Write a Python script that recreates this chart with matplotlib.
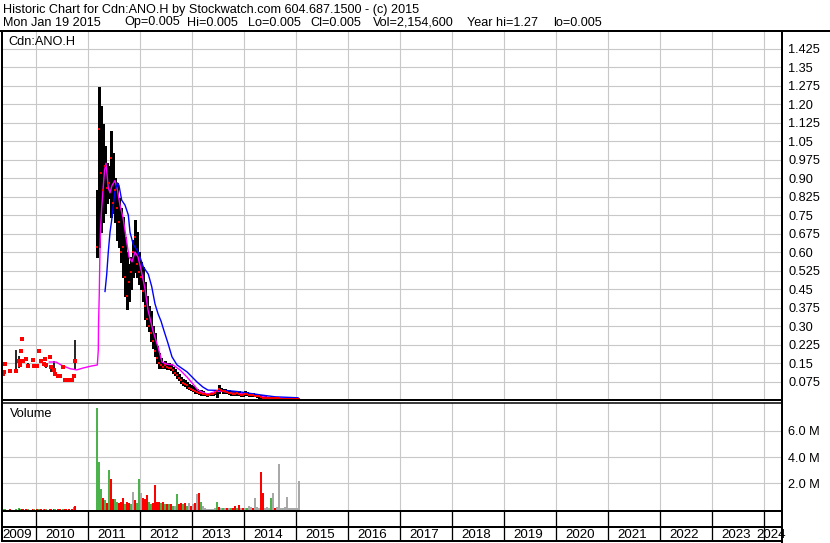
import numpy as np
import pandas as pd
import matplotlib
matplotlib.use('Agg')
import matplotlib.pyplot as plt
from matplotlib.lines import Line2D

plt.rcParams['font.family'] = ['Liberation Sans', 'DejaVu Sans']

title_1 = 'Historic Chart for Cdn:ANO.H by Stockwatch.com 604.687.1500 - (c) 2015'
title_2 = ['Mon Jan 19 2015', 'Op=0.005', 'Hi=0.005', 'Lo=0.005', 'Cl=0.005',
           'Vol=2,154,600', 'Year hi=1.27', 'lo=0.005']
symbol = 'Cdn:ANO.H'

# sparse trades 2009-2010 (decimal years)
early_t = [2009.366, 2009.385, 2009.404, 2009.50, 2009.616, 2009.673, 2009.692, 2009.712,
           2009.731, 2009.75, 2009.808, 2009.846, 2009.943, 2009.962, 2010.02, 2010.058,
           2010.096, 2010.154, 2010.173, 2010.192, 2010.27, 2010.289, 2010.346, 2010.365,
           2010.423, 2010.462, 2010.52, 2010.558, 2010.577, 2010.635, 2010.692, 2010.731,
           2010.75]
early_high = [.104, .113, .147, .119, .203, .18, .14, .20, .249, .159, .166, .15, .162, .136,
              .138, .199, .16, .147, .165, .15, .176, .14, .16, .104, .097, .097, .135, .081,
              .081, .081, .081, .097, .243]
early_low = [.104, .113, .147, .119, .11, .13, .14, .20, .249, .159, .166, .135, .162, .136,
             .138, .199, .15, .147, .165, .13, .176, .115, .10, .104, .097, .097, .135, .081,
             .081, .081, .081, .097, .122]
early_close = [.104, .113, .147, .119, .118, .16, .14, .20, .249, .159, .166, .139, .162, .136,
               .138, .199, .158, .147, .165, .14, .176, .133, .122, .104, .097, .097, .135, .081,
               .081, .081, .081, .097, .158]
early_vol = [0.05, 0.04, 0.05, 0.05, 0.08, 0.1, 0.05, 0.05, 0.06, 0.05, 0.05, 0.05, 0.05, 0.06,
             0.05, 0.05, 0.05, 0.06, 0.05, 0.05, 0.05, 0.06, 0.05, 0.05, 0.06, 0.05, 0.05, 0.05,
             0.05, 0.05, 0.06, 0.23, 0.3]
early_move = list('rggrggrgrrrgrgrgrgrgrrrgrrgrrrrgr')

# two-week bars Mar 2011 - Jan 2015
act_start, act_count = '2011-03-07', 102
act_high = [0.85, 1.27, 1.19, 1.12, 1.03, 0.96, 0.95, 1.09, 1.00, 0.90,
            0.88, 0.82, 0.78, 0.74, 0.66, 0.60, 0.55, 0.58, 0.65, 0.73,
            0.68, 0.60, 0.56, 0.54, 0.48, 0.42, 0.38, 0.36, 0.30, 0.27,
            0.22, 0.19, 0.17, 0.155, 0.16, 0.15, 0.15, 0.145, 0.135, 0.125,
            0.115, 0.105, 0.095, 0.085, 0.08, 0.075, 0.065, 0.06, 0.055, 0.05,
            0.045, 0.042, 0.04, 0.035, 0.03, 0.03, 0.028, 0.03, 0.03, 0.035,
            0.04, 0.061, 0.05, 0.045, 0.045, 0.04, 0.04, 0.035, 0.035, 0.032,
            0.035, 0.035, 0.03, 0.03, 0.035, 0.032, 0.03, 0.03, 0.028, 0.025,
            0.025, 0.022, 0.02, 0.018, 0.015, 0.012, 0.012, 0.012, 0.01, 0.012,
            0.01, 0.01, 0.01, 0.01, 0.008, 0.008, 0.008, 0.008, 0.007, 0.007,
            0.006, 0.005]
act_low = [0.58, 0.62, 0.68, 0.72, 0.76, 0.80, 0.82, 0.74, 0.76, 0.72,
           0.65, 0.62, 0.56, 0.50, 0.42, 0.37, 0.40, 0.45, 0.50, 0.52,
           0.50, 0.47, 0.45, 0.40, 0.33, 0.30, 0.28, 0.24, 0.21, 0.18,
           0.15, 0.13, 0.13, 0.13, 0.13, 0.125, 0.125, 0.12, 0.11, 0.10,
           0.09, 0.08, 0.07, 0.06, 0.055, 0.05, 0.045, 0.04, 0.035, 0.03,
           0.028, 0.025, 0.022, 0.02, 0.02, 0.018, 0.02, 0.02, 0.022, 0.025,
           0.012, 0.03, 0.035, 0.03, 0.03, 0.028, 0.025, 0.022, 0.02, 0.02,
           0.02, 0.02, 0.018, 0.018, 0.02, 0.02, 0.018, 0.018, 0.015, 0.015,
           0.012, 0.01, 0.01, 0.008, 0.008, 0.006, 0.006, 0.006, 0.005, 0.006,
           0.005, 0.005, 0.005, 0.005, 0.005, 0.005, 0.005, 0.005, 0.005, 0.005,
           0.005, 0.005]
act_close = [0.62, 1.10, 0.92, 0.85, 0.95, 0.86, 0.88, 0.98, 0.80, 0.85,
             0.78, 0.72, 0.60, 0.62, 0.50, 0.42, 0.48, 0.52, 0.60, 0.66,
             0.55, 0.52, 0.50, 0.44, 0.38, 0.33, 0.30, 0.27, 0.24, 0.20,
             0.17, 0.15, 0.14, 0.135, 0.14, 0.135, 0.13, 0.13, 0.12, 0.11,
             0.10, 0.09, 0.08, 0.07, 0.065, 0.06, 0.05, 0.045, 0.04, 0.038,
             0.033, 0.03, 0.028, 0.025, 0.025, 0.022, 0.022, 0.025, 0.025, 0.03,
             0.035, 0.045, 0.04, 0.038, 0.035, 0.032, 0.03, 0.028, 0.025, 0.025,
             0.028, 0.025, 0.022, 0.022, 0.025, 0.025, 0.02, 0.022, 0.02, 0.018,
             0.015, 0.015, 0.012, 0.01, 0.01, 0.008, 0.008, 0.008, 0.007, 0.008,
             0.007, 0.007, 0.006, 0.006, 0.006, 0.006, 0.005, 0.005, 0.005, 0.005,
             0.005, 0.005]
act_vol = [7.7, 3.65, 1.6, 0.9, 0.7, 0.5, 3.0, 2.3, 0.8, 0.8,
           0.6, 0.5, 0.6, 0.9, 0.4, 0.6, 0.5, 0.4, 1.37, 0.7,
           0.5, 2.3, 1.3, 0.9, 0.8, 1.1, 0.6, 0.4, 0.5, 1.9,
           0.6, 0.6, 0.5, 0.6, 0.4, 0.4, 0.4, 0.4, 0.3, 0.3,
           1.2, 0.4, 0.5, 0.4, 0.5, 0.3, 0.5, 0.3, 0.4, 0.5,
           1.2, 1.3, 0.6, 0.3, 0.15, 0.05, 0.05, 0.05, 0.05, 0.1,
           0.6, 0.2, 0.1, 0.15, 0.15, 0.1, 0.1, 0.15, 0.1, 0.3,
           0.15, 0.35, 0.1, 0.1, 0.1, 0.1, 0.3, 0.2, 0.1, 0.9,
           0.2, 0.1, 2.9, 1.3, 0.1, 0.2, 0.1, 0.9, 1.3, 0.15,
           0.2, 3.5, 0.15, 0.15, 0.2, 1.0, 0.1, 0.15, 0.1, 0.1,
           0.1, 2.15]
act_move = list('gggrgrgrrg' 'grrrgrrgnr' 'ggnrrrggrr' 'rrgrgrgrgn' 'grrgrgnrnr'
                'nrgnnnnnnn' 'grngnrngrr' 'grnrngnnrn' 'nnrrnnngnr' 'nnnnnnnnnn' 'nn')

# moving averages
ma_short_t = [2010.256, 2010.385, 2010.50, 2010.654, 2010.783, 2010.91, 2011.071, 2011.179,
              2011.198, 2011.202, 2011.217, 2011.231, 2011.24, 2011.263, 2011.288, 2011.317,
              2011.346, 2011.39, 2011.423, 2011.462, 2011.519, 2011.567, 2011.615, 2011.673,
              2011.731, 2011.788, 2011.846, 2011.904, 2011.962, 2012.019, 2012.096, 2012.154,
              2012.25, 2012.346, 2012.423, 2012.519, 2012.635, 2012.769, 2012.904, 2013.019,
              2013.115, 2013.212, 2013.308, 2013.442, 2013.571, 2013.764, 2014.019, 2014.269,
              2014.533, 2015.038]
ma_short = [.154, .154, .14, .127, .122, .13, .138, .142, .203, .304, .434, .62, .69, .78, .85,
            .93, .96, .86, .84, .87, .89, .85, .79, .74, .66, .58, .56, .60, .58, .53, .45, .365,
            .28, .215, .154, .145, .142, .122, .093, .065, .04, .03, .024, .034, .036, .028,
            .024, .016, .009, .007]
ma_long_t = [2011.327, 2011.36, 2011.39, 2011.423, 2011.456, 2011.487, 2011.519, 2011.567,
             2011.596, 2011.648, 2011.712, 2011.775, 2011.808, 2011.871, 2011.967, 2012.063,
             2012.16, 2012.225, 2012.288, 2012.346, 2012.404, 2012.462, 2012.538, 2012.615,
             2012.712, 2012.904, 2013.096, 2013.212, 2013.308, 2013.692, 2013.885, 2014.34,
             2014.596, 2015.038]
ma_long = [.44, .51, .60, .68, .73, .79, .85, .88, .87, .81, .79, .75, .68, .63, .60, .54, .51,
           .46, .39, .35, .32, .28, .23, .175, .142, .114, .073, .052, .04, .038, .034, .02,
           .013, .009]

price_ticks = [0.075 * k for k in range(1, 20)]
price_tick_labels = ['0.075', '0.15', '0.225', '0.30', '0.375', '0.45', '0.525', '0.60',
                     '0.675', '0.75', '0.825', '0.90', '0.975', '1.05', '1.125', '1.20',
                     '1.275', '1.35', '1.425']
vol_ticks = [2e6, 4e6, 6e6]
vol_tick_labels = ['2.0 M', '4.0 M', '6.0 M']
year_labels = [str(y) for y in range(2009, 2025)]

W, H = 830, 543
X0, X1 = 2009.346, 2024.346
GRID = '#c8c8c8'
MOVE_COLORS = {'g': '#4cb34c', 'r': '#ff0000', 'n': '#a8a8a8'}
TITLE_2_X = [3, 124, 187, 248, 310, 373, 467, 553]


def fx(px):
    return px / W


def fy(py):
    return 1 - py / H


def axes_px(fig, left, top, right, bottom):
    ax = fig.add_axes([fx(left), fy(bottom), (right - left) / W, (bottom - top) / H])
    for s in ax.spines.values():
        s.set_visible(False)
    ax.set_xlim(X0, X1)
    return ax


def line_px(fig, x0, y0, x1, y1, lw=2.0):
    fig.add_artist(Line2D([fx(x0), fx(x1)], [fy(y0), fy(y1)], transform=fig.transFigure,
                          color='black', lw=lw * 0.72, solid_capstyle='butt'))


def decimal_year(d):
    return d.year + (d.dayofyear - 1) / (366 if d.is_leap_year else 365)


act_t = [decimal_year(d) for d in pd.date_range(act_start, periods=act_count, freq='14D')]
years = list(range(2010, 2025))

fig = plt.figure(figsize=(W / 100, H / 100), dpi=100)
fig.patch.set_facecolor('white')

# price panel
ax = axes_px(fig, 2, 32, 782, 400)
ax.set_ylim(0, 1.492)
ax.set_xticks(years)
ax.set_yticks(price_ticks)
ax.set_yticklabels(price_tick_labels)
ax.tick_params(axis='x', length=0, labelbottom=False)
ax.tick_params(axis='y', length=0, left=False, labelleft=False, labelright=True, pad=4.5,
               labelsize=9.2)
ax.grid(True, color=GRID, lw=0.8)
ax.set_axisbelow(True)
ax.vlines(early_t, early_low, early_high, color='black', lw=1.2)
ax.vlines(act_t, act_low, act_high, color='black', lw=1.9, antialiased=False)
ax.plot(ma_short_t, ma_short, color='#ff00ff', lw=1.0)
ax.plot(ma_long_t, ma_long, color='#0000ff', lw=1.0)
ax.plot(early_t, early_close, 's', ms=2.3, mew=0, color='red')
ax.plot(act_t, act_close, 's', ms=1.7, mew=0, color='red')
ax.text(0.008, 0.973, symbol, transform=ax.transAxes, fontsize=9.2, va='center', ha='left')

# volume panel
av = axes_px(fig, 2, 403, 782, 511)
av.set_ylim(-0.1e6, 8.11e6)
av.set_xticks(years)
av.set_yticks(vol_ticks)
av.set_yticklabels(vol_tick_labels)
av.tick_params(axis='x', length=0, labelbottom=False)
av.tick_params(axis='y', length=0, left=False, labelleft=False, labelright=True, pad=4,
               labelsize=9.2)
av.grid(True, color=GRID, lw=0.8)
av.set_axisbelow(True)
av.bar(early_t, np.array(early_vol) * 1e6, width=0.03,
       color=[MOVE_COLORS[m] for m in early_move], antialiased=False)
av.bar(act_t, np.array(act_vol) * 1e6, width=0.038,
       color=[MOVE_COLORS[m] for m in act_move], antialiased=False)
av.text(0.01, 0.9, 'Volume', transform=av.transAxes, fontsize=9.2, va='center', ha='left')

# year strip
strip = axes_px(fig, 2, 511, 782, 542)
strip.set_ylim(0, 1)
strip.set_xticks([])
strip.set_yticks([])
strip.patch.set_alpha(0)
for y, lab in zip(range(2009, 2025), year_labels):
    lo, hi = max(y, X0), min(y + 1, X1)
    strip.text((lo + hi) / 2 - 2 / 52, 0.24, lab, ha='center', va='center', fontsize=9.6)

# frame
x_of = lambda yr: 2 + (yr - X0) * 52
line_px(fig, 0, 31, W, 31)
line_px(fig, 2, 31, 2, 542)
line_px(fig, 782, 31, 782, H)
line_px(fig, 2, 400, 782, 400)
line_px(fig, 2, 403, 782, 403, lw=1.5)
line_px(fig, 2, 511, 782, 511)
line_px(fig, 2, 527, 782, 527)
line_px(fig, 2, 541, 782, 541)
for yr in years:
    line_px(fig, x_of(yr), 511, x_of(yr), 541, lw=1.3)

fig.text(fx(3), fy(9.5), title_1, fontsize=9.1, va='center', ha='left')
for x, part in zip(TITLE_2_X, title_2):
    fig.text(fx(x), fy(22.5), part, fontsize=9.1, va='center', ha='left')

fig.savefig('out.png', dpi=100, facecolor='white')
